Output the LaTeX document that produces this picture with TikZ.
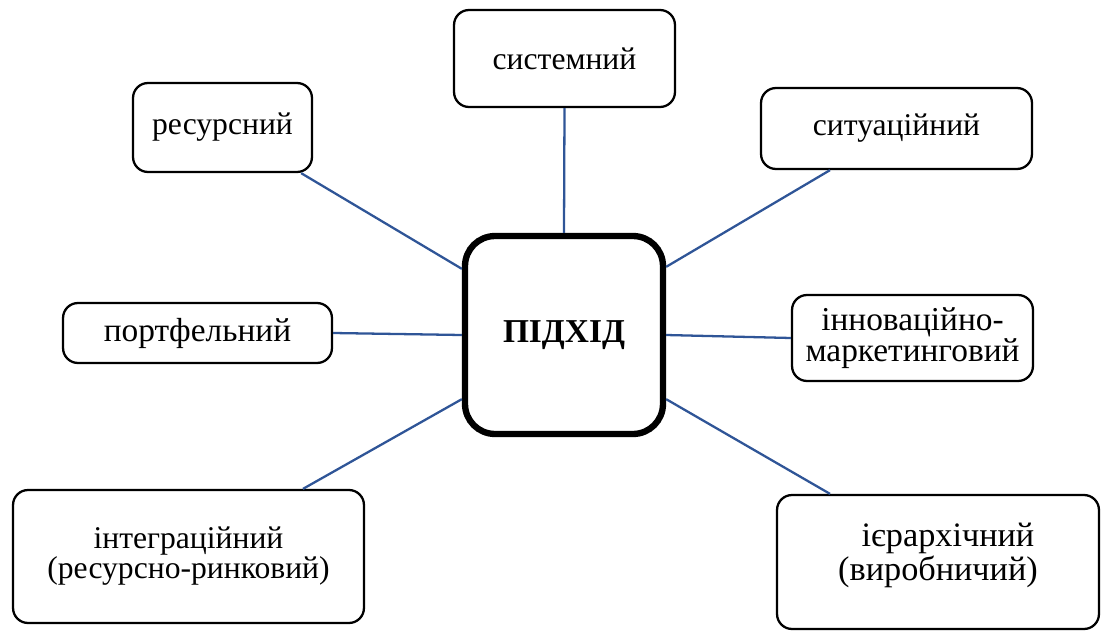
\documentclass[tikz,border=0pt]{standalone}
\usepackage{fontspec}
\setmainfont{Liberation Serif}
\usepackage{tikz}
\usetikzlibrary{positioning,calc}
\definecolor{linkblue}{RGB}{47,85,151}
\tikzset{
  leaf/.style={draw, line width=1.3pt, rounded corners=0.3cm, align=center,
    font=\fontsize{18}{17}\selectfont, inner sep=0pt},
  link/.style={draw=linkblue, line width=1.3pt},
}

\begin{document}
\begin{tikzpicture}[
  x=0.02cm, y=-0.02cm,
  hubbox/.style={draw, line width=3.6pt, rounded corners=0.6cm,
    minimum width=3.96cm, minimum height=3.96cm,
    font=\fontsize{19}{20}\selectfont\bfseries},
]
\useasboundingbox (0,0) rectangle (1109,632);

\node[hubbox] (hub) at (564,335) {ПІДХІД};

\node[leaf, minimum width=4.42cm, minimum height=1.94cm] (sys) at (564.5,58.5) {системний};
\node[leaf, minimum width=3.58cm, minimum height=1.78cm] (res) at (222.5,127.5) {ресурсний};
\node[leaf, minimum width=5.42cm, minimum height=1.62cm] (sit) at (896.5,128.5) {ситуаційний};
\node[leaf, minimum width=5.38cm, minimum height=1.2cm, font=\fontsize{19}{18}\selectfont] (port) at (197.5,333) {портфельний};
\node[leaf, minimum width=4.82cm, minimum height=1.72cm, font=\fontsize{19}{18}\selectfont] (inn) at (912.5,338) {інноваційно-\\маркетинговий};
\node[leaf, minimum width=7.02cm, minimum height=2.66cm] (integ) at (188.5,556.5) {інтеграційний\\(ресурсно-ринковий)};
\node[leaf, minimum width=6.44cm, minimum height=2.68cm, text depth=0.42cm,
  font=\fontsize{19.5}{18}\selectfont] (ier) at (938,562) {\hspace*{0.4cm}ієрархічний\\(виробничий)};

\path[link]
(sys.south) -- (hub.north)
([xshift=-0.24cm]res.south east) -- ([yshift=-0.72cm]hub.north west)
([xshift=-1.33cm]sit.south) -- ([yshift=-0.68cm]hub.north east)
(port.east) -- (hub.west)
(inn.west) -- (hub.east)
([xshift=2.29cm]integ.north) -- ([yshift=0.76cm]hub.south west)
([xshift=-2.16cm]ier.north) -- ([yshift=0.76cm]hub.south east);

\end{tikzpicture}
\end{document}
